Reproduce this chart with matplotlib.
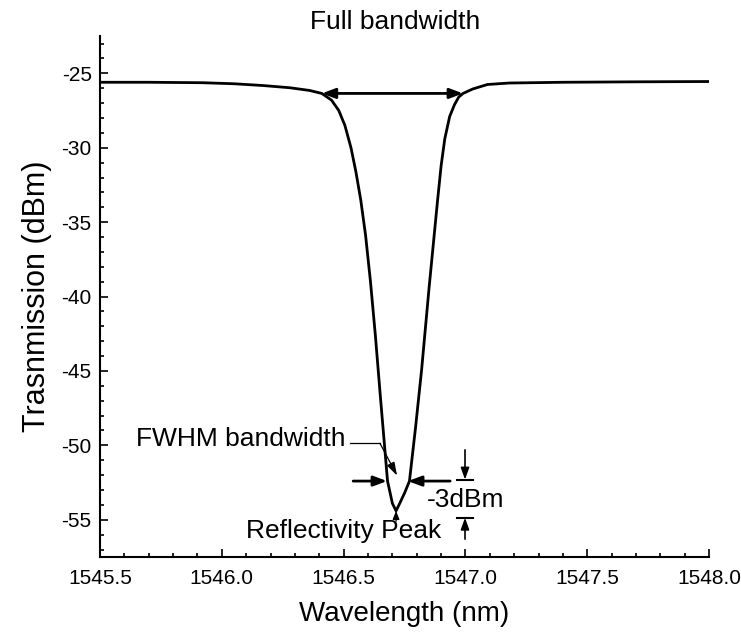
import matplotlib
matplotlib.use('Agg')
import matplotlib.pyplot as plt
from matplotlib.ticker import MultipleLocator

plt.rcParams['font.family'] = ['Liberation Sans', 'DejaVu Sans']
plt.rcParams['axes.unicode_minus'] = False

# transmission spectrum
wavelength = [1545.50, 1545.70, 1545.92, 1546.05, 1546.17, 1546.28, 1546.36, 1546.41,
              1546.45, 1546.48, 1546.505, 1546.53, 1546.55, 1546.57, 1546.59, 1546.61,
              1546.63, 1546.65, 1546.68, 1546.70, 1546.715, 1546.73, 1546.75, 1546.77,
              1546.795, 1546.82, 1546.85, 1546.885, 1546.90, 1546.915, 1546.935, 1546.955,
              1546.972, 1546.99, 1547.03, 1547.09, 1547.18, 1547.40, 1547.70, 1548.00]
transmission = [-25.60, -25.60, -25.63, -25.70, -25.82, -25.97, -26.15, -26.35,
                -26.80, -27.50, -28.50, -30.00, -31.60, -33.50, -35.90, -39.00,
                -42.60, -46.60, -52.40, -53.90, -54.40, -53.90, -53.20, -52.40,
                -48.80, -44.90, -39.50, -33.60, -31.20, -29.40, -27.90, -27.10,
                -26.60, -26.35, -26.05, -25.75, -25.65, -25.60, -25.57, -25.55]

# annotation anchors
full_bw = (1546.41, 1546.99, -26.35)
fwhm = (1546.678, 1546.764, -52.4)
peak = (1546.715, -54.4)
marker_x = 1546.998
marker_top = -52.3
marker_bot = -54.86

fig = plt.figure(figsize=(7.41, 6.34), dpi=100)
ax = fig.add_axes([0.135, 0.1215, 0.822, 0.8215])

ax.plot(wavelength, transmission, color='black', lw=2)

ax.set_xlim(1545.5, 1548.0)
ax.set_ylim(-57.5, -22.5)
ax.xaxis.set_major_locator(MultipleLocator(0.5))
ax.xaxis.set_minor_locator(MultipleLocator(0.1))
ax.yaxis.set_major_locator(MultipleLocator(5))
ax.yaxis.set_minor_locator(MultipleLocator(1))
ax.xaxis.set_major_formatter(plt.FormatStrFormatter('%.1f'))

for s in ['top', 'right']:
    ax.spines[s].set_visible(False)
for s in ['left', 'bottom']:
    ax.spines[s].set_linewidth(1.5)

ax.tick_params(which='major', direction='in', length=6, width=1.2, labelsize=15)
ax.tick_params(which='minor', direction='in', length=3, width=1.2)
ax.tick_params(axis='x', which='major', pad=9)
ax.tick_params(axis='y', which='major', pad=6)

ax.set_xlabel('Wavelength (nm)', fontsize=20, labelpad=9)
ax.set_ylabel('Trasnmission (dBm)', fontsize=22, labelpad=7)

head = dict(color='black', lw=2, shrinkA=0, shrinkB=0)

# full bandwidth
ax.annotate('', xy=(full_bw[1], full_bw[2]), xytext=(full_bw[0], full_bw[2]),
            arrowprops=dict(arrowstyle='<|-|>,head_length=0.8,head_width=0.3', **head))
ax.text(1546.71, -21.55, 'Full bandwidth', fontsize=19, ha='center', va='center',
        clip_on=False)

# FWHM arrows
ax.annotate('', xy=(fwhm[0], fwhm[2]), xytext=(1546.539, fwhm[2]),
            arrowprops=dict(arrowstyle='-|>,head_length=0.8,head_width=0.3', **head))
ax.annotate('', xy=(fwhm[1], fwhm[2]), xytext=(1546.937, fwhm[2]),
            arrowprops=dict(arrowstyle='-|>,head_length=0.8,head_width=0.3', **head))

# FWHM label with leader
ax.text(1546.506, -49.55, 'FWHM bandwidth', fontsize=19, ha='right', va='center')
ax.plot([1546.526, 1546.649], [-49.86, -49.86], color='black', lw=0.9)
ax.annotate('', xy=(1546.719, -52.03), xytext=(1546.649, -49.86),
            arrowprops=dict(arrowstyle='-|>,head_length=0.8,head_width=0.25',
                            color='black', lw=0.9, shrinkA=0, shrinkB=0))

# reflectivity peak
ax.text(1546.50, -55.75, 'Reflectivity Peak', fontsize=19, ha='center', va='center')
ax.annotate('', xy=peak, xytext=(peak[0], -55.1),
            arrowprops=dict(arrowstyle='-|>,head_length=0.5,head_width=0.2',
                            color='black', lw=0.9, shrinkA=0, shrinkB=0))

# -3 dB markers
ax.plot([marker_x - 0.033, marker_x + 0.033], [marker_top, marker_top], color='black', lw=1.5)
ax.plot([marker_x - 0.033, marker_x + 0.033], [marker_bot, marker_bot], color='black', lw=1.5)
ax.annotate('', xy=(marker_x, marker_top), xytext=(marker_x, -50.3),
            arrowprops=dict(arrowstyle='-|>,head_length=0.7,head_width=0.25',
                            color='black', lw=1.2, shrinkA=0, shrinkB=0))
ax.annotate('', xy=(marker_x, marker_bot), xytext=(marker_x, -56.3),
            arrowprops=dict(arrowstyle='-|>,head_length=0.7,head_width=0.25',
                            color='black', lw=1.2, shrinkA=0, shrinkB=0))
ax.text(1546.84, -53.65, '-3dBm', fontsize=19, ha='left', va='center')

fig.savefig('out.png', dpi=100)
